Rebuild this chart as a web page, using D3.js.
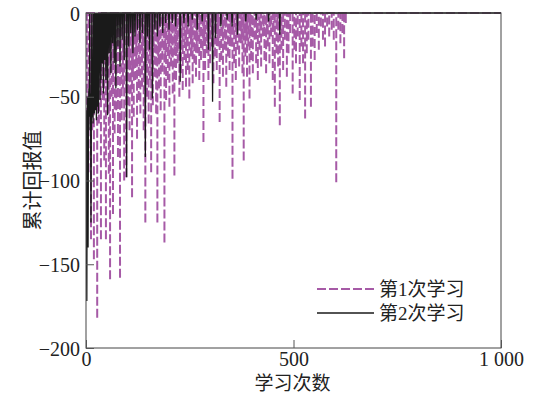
<!DOCTYPE html>
<html>
<head>
<meta charset="utf-8">
<script src="https://cdn.jsdelivr.net/npm/d3@7/dist/d3.min.js"></script>
<style>
  html, body { margin: 0; padding: 0; background: #fff; }
  svg { display: block; }
  text { font-family: "Liberation Serif", "Noto Sans CJK SC", serif; fill: #222; }
</style>
</head>
<body>
<svg id="chart" width="538" height="395"></svg>
<script>
// Cumulative return per learning episode; episodes not listed returned 0.
const episodeRange = [0, 1000];
const returnRange = [-200, 0];
const xTicks = [0, 500, 1000];
const yTicks = [0, -50, -100, -150, -200];
const seriesNames = ["第1次学习", "第2次学习"];

// First learning run: [episode, cumulative return]
const run1 = [
  [2,-62],[6,-95],[10,-48],[12,-135],[15,-70],[19,-147],[23,-55],[27,-182],[31,-66],[36,-135],
  [40,-52],[44,-88],[48,-135],[52,-60],[55,-96],[58,-159],[62,-50],[65,-120],[69,-72],[73,-58],
  [77,-86],[82,-158],[86,-64],[89,-45],[92,-100],[97,-98],[101,-55],[104,-30],[105,-70],[108,-48],
  [111,-110],[113,-35],[115,-62],[119,-40],[121,-28],[123,-75],[127,-52],[129,-32],[131,-60],[135,-44],
  [137,-26],[139,-70],[143,-125],[145,-30],[147,-50],[149,-22],[151,-66],[154,-40],[157,-95],[159,-28],
  [161,-55],[163,-20],[165,-38],[169,-60],[172,-125],[174,-26],[176,-45],[178,-30],[180,-58],[184,-35],
  [187,-22],[189,-137],[191,-28],[193,-52],[197,-40],[199,-24],[201,-56],[203,-18],[205,-32],[207,-26],
  [209,-48],[213,-97],[215,-20],[217,-40],[219,-24],[221,-30],[225,-50],[227,-18],[229,-36],[231,-22],
  [233,-46],[237,-28],[239,-16],[241,-44],[243,-20],[245,-34],[249,-51],[251,-14],[253,-26],[255,-22],
  [257,-42],[261,-30],[263,-16],[265,-38],[267,-20],[269,-24],[273,-40],[275,-14],[277,-28],[281,-22],
  [283,-77],[285,-16],[287,-34],[291,-24],[293,-18],[295,-40],[297,-14],[299,-30],[303,-20],[305,-16],
  [307,-42],[311,-26],[313,-12],[315,-34],[317,-18],[319,-20],[322,-65],[326,-28],[328,-14],[330,-38],
  [334,-22],[336,-16],[338,-44],[342,-26],[344,-12],[346,-34],[348,-18],[350,-20],[353,-99],[355,-12],
  [357,-30],[361,-40],[363,-14],[365,-22],[369,-32],[371,-10],[373,-18],[375,-16],[377,-36],[380,-88],
  [382,-12],[384,-26],[386,-14],[388,-38],[391,-20],[394,-51],[396,-10],[398,-28],[400,-14],[402,-36],
  [406,-16],[408,-8],[410,-30],[412,-12],[414,-40],[418,-22],[420,-10],[422,-32],[426,-14],[428,-8],
  [430,-28],[434,-36],[436,-12],[438,-20],[442,-30],[444,-8],[446,-14],[450,-40],[452,-10],[455,-56],
  [459,-24],[461,-8],[463,-32],[467,-67],[469,-10],[471,-22],[475,-34],[479,-16],[484,-38],[488,-24],
  [492,-12],[498,-48],[502,-22],[506,-30],[510,-14],[515,-52],[519,-20],[523,-30],[528,-63],[532,-24],
  [536,-16],[542,-56],[546,-20],[551,-28],[556,-12],[561,-22],[566,-8],[571,-16],[576,-20],[581,-8],
  [586,-14],[592,-10],[597,-16],[603,-101],[608,-10],[613,-18],[618,-12],[622,-27],[626,-6]
];

// Second learning run: [episode, cumulative return]
const run2 = [
  [0,-58],[1,-120],[2,-172],[3,-64],[4,-50],[5,-140],[6,-60],[7,-45],[8,-62],[10,-70],
  [11,-48],[12,-125],[13,-58],[15,-62],[16,-40],[17,-66],[19,-52],[20,-60],[22,-44],[23,-58],
  [25,-64],[27,-38],[28,-56],[30,-60],[32,-36],[34,-52],[36,-40],[39,-30],[42,-48],[45,-28],
  [48,-40],[52,-61],[56,-24],[60,-36],[64,-18],[68,-30],[72,-45],[77,-20],[82,-32],[87,-16],
  [92,-28],[98,-98],[103,-20],[108,-12],[113,-24],[118,-14],[124,-10],[130,-18],[136,-12],[143,-86],
  [148,-14],[153,-22],[160,-51],[166,-10],[172,-14],[178,-8],[185,-12],[192,-6],[200,-10],[208,-6],
  [216,-8],[227,-41],[236,-6],[246,-8],[256,-4],[268,-10],[280,-5],[295,-22],[305,-53],[312,-15],
  [325,-8],[340,-4],[352,-8],[365,-13],[385,-5],[410,-4],[440,-5],[467,-13]
];

const svg = d3.select("#chart");
const plotLeft = 86, plotRight = 501, plotTop = 13, plotBottom = 348;

const x = d3.scaleLinear().domain(episodeRange).range([plotLeft, plotRight]);
const y = d3.scaleLinear().domain(returnRange).range([plotBottom, plotTop]);

// Full per-episode series (0 where an episode is not listed)
function fullSeries(pairs) {
  const lookup = new Map(pairs);
  return d3.range(episodeRange[0], episodeRange[1] + 1).map(ep => [ep, lookup.get(ep) ?? 0]);
}

// Dashed run: every drop is its own sub-path (drawn from the low point back up to 0)
// so the dash pattern starts fresh on each drop; the 0 level is one long sub-path.
function dropSegments(pairs) {
  const pts = [[episodeRange[0], 0], [episodeRange[1], 0], null];
  pairs.forEach(([ep, v]) => { pts.push([ep, v], [ep, 0], null); });
  return pts;
}

const line = d3.line()
  .defined(d => d !== null)
  .x(d => x(d[0]))
  .y(d => y(d[1]));

svg.append("clipPath").attr("id", "plotClip")
  .append("rect")
  .attr("x", plotLeft).attr("y", plotTop - 3)
  .attr("width", plotRight - plotLeft).attr("height", plotBottom - plotTop + 3);

const plot = svg.append("g").attr("clip-path", "url(#plotClip)");

plot.append("path")
  .datum(dropSegments(run1))
  .attr("fill", "none")
  .attr("stroke", "#a65aa6")
  .attr("stroke-width", 2)
  .attr("stroke-dasharray", "9,3")
  .attr("d", line);

plot.append("path")
  .datum(fullSeries(run2))
  .attr("fill", "none")
  .attr("stroke", "#1a1a1a")
  .attr("stroke-width", 1.3)
  .attr("d", line);

// Frame
svg.append("rect")
  .attr("x", plotLeft).attr("y", plotTop)
  .attr("width", plotRight - plotLeft).attr("height", plotBottom - plotTop)
  .attr("fill", "none").attr("stroke", "#444").attr("stroke-width", 1);

const fmtY = v => v === 0 ? "0" : "\u2212" + Math.abs(v);
const fmtX = v => v >= 1000 ? "1 000" : String(v);

// Left axis, ticks pointing inward
const yAxis = svg.append("g").attr("transform", `translate(${plotLeft},0)`)
  .call(d3.axisLeft(y).tickValues(yTicks).tickSize(-8).tickPadding(6).tickFormat(fmtY));
yAxis.select(".domain").remove();
yAxis.selectAll(".tick line").attr("stroke", "#555");
yAxis.selectAll("text").attr("font-size", 20).attr("fill", "#222")
  .attr("font-family", "Liberation Serif, serif").attr("x", -6).attr("dy", "0.35em");

// Bottom axis, ticks pointing inward
const xAxis = svg.append("g").attr("transform", `translate(0,${plotBottom})`)
  .call(d3.axisBottom(x).tickValues(xTicks).tickSize(-8).tickPadding(4).tickFormat(fmtX));
xAxis.select(".domain").remove();
xAxis.selectAll(".tick line").attr("stroke", "#555");
xAxis.selectAll("text").attr("font-size", 20).attr("fill", "#222")
  .attr("font-family", "Liberation Serif, serif").attr("y", 4).attr("dy", "0.71em");

// Axis titles
svg.append("text")
  .attr("x", (plotLeft + plotRight) / 2 - 1).attr("y", 390)
  .attr("text-anchor", "middle").attr("font-size", 19)
  .text("学习次数");

svg.append("text")
  .attr("transform", `translate(33,${(plotTop + plotBottom) / 2}) rotate(-90)`)
  .attr("text-anchor", "middle").attr("dy", "0.35em").attr("font-size", 20)
  .text("累计回报值");

// Legend
const legend = svg.append("g");
const legendItems = [
  { name: seriesNames[0], color: "#a65aa6", width: 2, dash: "9,3", yPos: 289 },
  { name: seriesNames[1], color: "#1a1a1a", width: 1.3, dash: null, yPos: 313 }
];
legendItems.forEach(it => {
  legend.append("line")
    .attr("x1", 317).attr("x2", 374).attr("y1", it.yPos).attr("y2", it.yPos)
    .attr("stroke", it.color).attr("stroke-width", it.width)
    .attr("stroke-dasharray", it.dash);
  legend.append("text")
    .attr("x", 379).attr("y", it.yPos).attr("dy", "0.35em")
    .attr("font-size", 19)
    .text(it.name);
});
</script>
</body>
</html>
